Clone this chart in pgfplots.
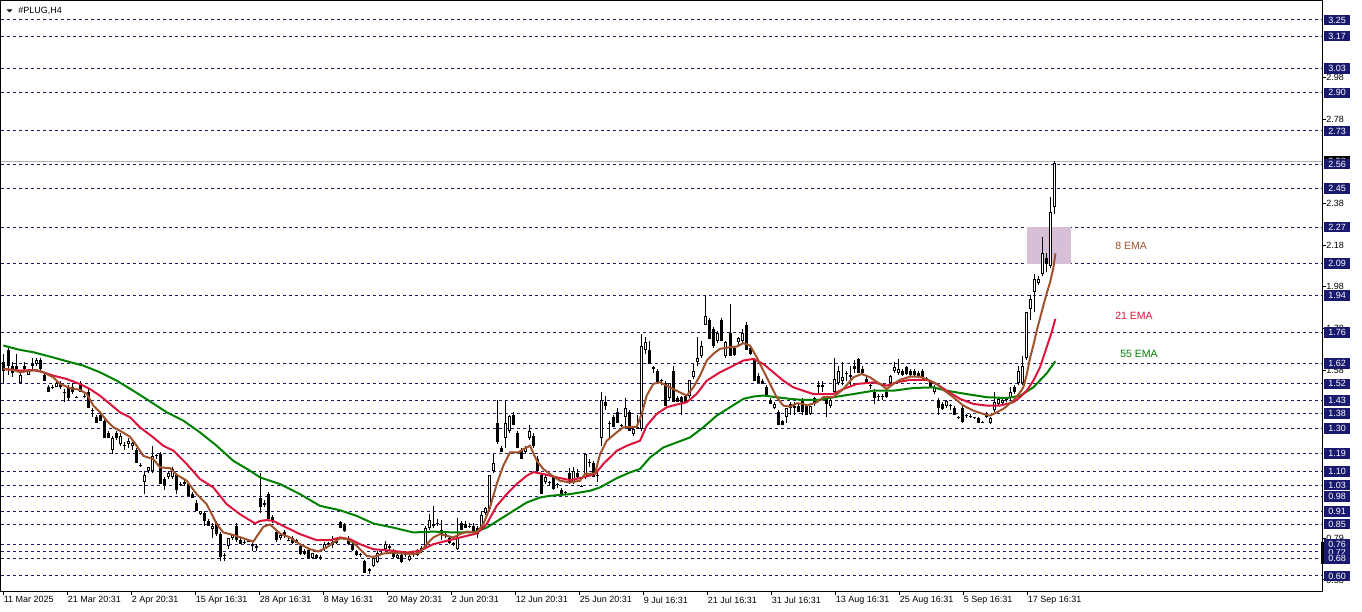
\documentclass[border=0pt]{standalone}
\usepackage{pgfplots}
\usepackage{pgfplotstable}
\pgfplotsset{compat=1.18}
\usepackage{fontspec}
\setmainfont{Liberation Sans}
\definecolor{navyline}{RGB}{25,25,112}
\definecolor{boxblue}{RGB}{25,25,112}
\definecolor{emaeightc}{RGB}{160,82,45}
\definecolor{ematwentyc}{RGB}{220,20,60}
\definecolor{emafiftyc}{RGB}{0,128,0}
\definecolor{zone}{RGB}{216,191,216}
\newcommand\lab{\fontsize{6.75}{8}\selectfont}
\tikzset{plainlab/.style={anchor=west, inner sep=0pt, font=\lab},
  lvlbox/.style={fill=boxblue, text=white, anchor=west, minimum width=19.9pt, minimum height=7.9pt, inner sep=0pt, font=\lab}}
\pgfplotsset{candle/.style={only marks, mark=*, mark size=0pt, mark options={draw=none, fill=none},
  error bars/.cd, y dir=plus, y explicit, error mark=none}}

\pgfplotstableread{
i o h l c
0 1.62 1.66 1.52 1.58
1 1.68 1.69 1.56 1.60
2 1.60 1.62 1.55 1.57
3 1.59 1.66 1.58 1.60
4 1.52 1.57 1.52 1.56
5 1.60 1.62 1.58 1.59
6 1.56 1.59 1.56 1.58
7 1.60 1.64 1.59 1.61
8 1.61 1.64 1.60 1.63
9 1.63 1.64 1.58 1.59
10 1.56 1.57 1.53 1.53
11 1.50 1.51 1.48 1.48
12 1.50 1.51 1.49 1.495
13 1.50 1.53 1.50 1.52
14 1.52 1.53 1.49 1.50
15 1.48 1.49 1.43 1.475
16 1.50 1.51 1.44 1.45
17 1.50 1.52 1.47 1.48
18 1.455 1.46 1.45 1.45
19 1.52 1.53 1.48 1.48
20 1.46 1.47 1.45 1.455
21 1.48 1.49 1.40 1.40
22 1.39 1.40 1.36 1.385
23 1.36 1.37 1.33 1.33
24 1.37 1.38 1.34 1.34
25 1.34 1.35 1.26 1.26
26 1.28 1.29 1.26 1.26
27 1.20 1.27 1.18 1.26
28 1.28 1.29 1.25 1.26
29 1.23 1.28 1.22 1.27
30 1.225 1.24 1.20 1.22
31 1.23 1.26 1.21 1.245
32 1.22 1.24 1.20 1.235
33 1.20 1.21 1.14 1.14
34 1.13 1.14 1.12 1.125
35 1.05 1.10 0.99 1.08
36 1.10 1.12 1.09 1.12
37 1.10 1.22 1.09 1.17
38 1.175 1.18 1.16 1.17
39 1.18 1.19 1.04 1.04
40 1.06 1.07 1.01 1.03
41 1.07 1.10 1.06 1.09
42 1.07 1.12 1.06 1.11
43 1.08 1.09 0.99 1.01
44 1.04 1.05 1.03 1.035
45 1.05 1.06 1.03 1.04
46 1.04 1.05 0.98 0.98
47 0.99 1.00 0.97 0.97
48 0.95 0.96 0.91 0.91
49 0.895 0.91 0.89 0.91
50 0.90 0.91 0.84 0.86
51 0.86 0.87 0.84 0.84
52 0.825 0.85 0.78 0.84
53 0.85 0.86 0.79 0.80
54 0.80 0.81 0.67 0.69
55 0.70 0.71 0.67 0.695
56 0.74 0.78 0.73 0.78
57 0.78 0.80 0.77 0.795
58 0.84 0.85 0.76 0.77
59 0.77 0.78 0.75 0.75
60 0.76 0.77 0.75 0.755
61 0.765 0.77 0.76 0.76
62 0.75 0.755 0.72 0.74
63 0.74 0.75 0.72 0.735
64 0.97 1.09 0.90 0.93
65 0.95 0.96 0.93 0.94
66 0.99 1.00 0.87 0.87
67 0.88 0.89 0.85 0.86
68 0.81 0.82 0.76 0.77
69 0.78 0.80 0.77 0.795
70 0.81 0.82 0.78 0.79
71 0.77 0.78 0.765 0.765
72 0.78 0.79 0.75 0.755
73 0.77 0.775 0.755 0.755
74 0.74 0.745 0.70 0.705
75 0.72 0.73 0.70 0.705
76 0.725 0.735 0.68 0.685
77 0.685 0.71 0.68 0.71
78 0.70 0.705 0.68 0.685
79 0.685 0.70 0.675 0.69
80 0.73 0.76 0.72 0.75
81 0.75 0.76 0.74 0.755
82 0.745 0.79 0.735 0.76
83 0.765 0.78 0.75 0.755
84 0.855 0.86 0.83 0.83
85 0.845 0.85 0.81 0.815
86 0.78 0.79 0.745 0.75
87 0.75 0.755 0.72 0.725
88 0.72 0.725 0.695 0.70
89 0.70 0.71 0.69 0.705
90 0.67 0.675 0.615 0.615
91 0.63 0.635 0.61 0.625
92 0.645 0.69 0.64 0.685
93 0.665 0.72 0.66 0.71
94 0.705 0.72 0.70 0.71
95 0.73 0.765 0.72 0.75
96 0.74 0.75 0.725 0.735
97 0.72 0.73 0.685 0.69
98 0.685 0.72 0.68 0.70
99 0.70 0.71 0.66 0.665
100 0.70 0.72 0.69 0.71
101 0.675 0.70 0.67 0.695
102 0.70 0.715 0.69 0.705
103 0.70 0.73 0.695 0.725
104 0.735 0.74 0.71 0.72
105 0.735 0.84 0.73 0.83
106 0.83 0.895 0.82 0.865
107 0.845 0.935 0.83 0.84
108 0.845 0.87 0.84 0.85
109 0.82 0.865 0.77 0.80
110 0.80 0.81 0.78 0.79
111 0.78 0.79 0.75 0.755
112 0.755 0.76 0.74 0.745
113 0.73 0.875 0.725 0.78
114 0.85 0.86 0.82 0.82
115 0.845 0.86 0.83 0.83
116 0.84 0.85 0.83 0.835
117 0.84 0.85 0.81 0.815
118 0.83 0.84 0.78 0.80
119 0.83 0.91 0.82 0.89
120 0.90 0.93 0.89 0.925
121 0.92 1.08 0.91 1.08
122 1.10 1.18 1.09 1.14
123 1.33 1.44 1.23 1.24
124 1.21 1.22 1.19 1.19
125 1.26 1.44 1.21 1.33
126 1.29 1.37 1.28 1.365
127 1.37 1.38 1.32 1.32
128 1.28 1.29 1.21 1.21
129 1.20 1.21 1.16 1.16
130 1.19 1.22 1.18 1.21
131 1.26 1.32 1.25 1.29
132 1.27 1.28 1.21 1.22
133 1.16 1.17 1.10 1.10
134 1.08 1.09 0.99 0.99
135 1.05 1.08 1.04 1.07
136 1.05 1.055 1.03 1.045
137 1.07 1.08 1.01 1.015
138 1.04 1.045 1.02 1.035
139 1.01 1.02 0.98 0.99
140 1.00 1.005 0.985 0.995
141 1.09 1.115 1.04 1.05
142 1.05 1.12 1.04 1.10
143 1.09 1.11 1.06 1.07
144 1.03 1.035 1.025 1.025
145 1.07 1.18 1.06 1.18
146 1.145 1.16 1.12 1.14
147 1.14 1.15 1.07 1.07
148 1.08 1.10 1.05 1.075
149 1.26 1.48 1.22 1.44
150 1.43 1.46 1.39 1.41
151 1.33 1.34 1.26 1.325
152 1.36 1.37 1.31 1.31
153 1.38 1.40 1.33 1.33
154 1.32 1.325 1.31 1.315
155 1.36 1.45 1.30 1.40
156 1.38 1.39 1.29 1.29
157 1.275 1.30 1.27 1.30
158 1.30 1.37 1.30 1.31
159 1.30 1.755 1.29 1.70
160 1.68 1.74 1.66 1.715
161 1.68 1.72 1.61 1.61
162 1.595 1.60 1.57 1.59
163 1.58 1.59 1.52 1.525
164 1.535 1.54 1.51 1.53
165 1.52 1.53 1.41 1.41
166 1.45 1.52 1.44 1.52
167 1.58 1.60 1.43 1.43
168 1.45 1.46 1.43 1.43
169 1.455 1.46 1.37 1.43
170 1.46 1.47 1.43 1.43
171 1.46 1.535 1.45 1.535
172 1.55 1.61 1.54 1.58
173 1.62 1.74 1.60 1.64
174 1.65 1.72 1.64 1.70
175 1.80 1.94 1.80 1.84
176 1.82 1.83 1.73 1.73
177 1.78 1.79 1.69 1.70
178 1.72 1.77 1.71 1.76
179 1.82 1.83 1.72 1.72
180 1.65 1.72 1.64 1.715
181 1.76 1.90 1.65 1.65
182 1.69 1.70 1.65 1.655
183 1.715 1.74 1.70 1.735
184 1.72 1.78 1.71 1.76
185 1.80 1.81 1.68 1.68
186 1.69 1.70 1.655 1.66
187 1.63 1.64 1.53 1.53
188 1.555 1.57 1.52 1.52
189 1.53 1.54 1.515 1.515
190 1.50 1.51 1.46 1.46
191 1.44 1.45 1.42 1.42
192 1.40 1.43 1.395 1.42
193 1.38 1.39 1.32 1.32
194 1.34 1.345 1.32 1.32
195 1.36 1.40 1.33 1.40
196 1.42 1.43 1.37 1.40
197 1.40 1.43 1.37 1.41
198 1.41 1.42 1.38 1.38
199 1.44 1.45 1.37 1.38
200 1.41 1.42 1.37 1.37
201 1.375 1.41 1.37 1.41
202 1.45 1.455 1.41 1.42
203 1.50 1.53 1.47 1.51
204 1.50 1.53 1.48 1.51
205 1.445 1.45 1.36 1.42
206 1.41 1.445 1.40 1.44
207 1.48 1.64 1.47 1.54
208 1.52 1.60 1.51 1.58
209 1.53 1.62 1.51 1.55
210 1.57 1.58 1.53 1.565
211 1.55 1.60 1.51 1.56
212 1.59 1.63 1.57 1.60
213 1.635 1.64 1.57 1.57
214 1.59 1.60 1.57 1.57
215 1.54 1.55 1.52 1.525
216 1.51 1.515 1.49 1.505
217 1.48 1.49 1.42 1.45
218 1.455 1.47 1.44 1.46
219 1.46 1.47 1.44 1.455
220 1.48 1.49 1.45 1.455
221 1.52 1.56 1.51 1.555
222 1.58 1.62 1.57 1.595
223 1.57 1.635 1.56 1.59
224 1.58 1.59 1.555 1.56
225 1.595 1.60 1.56 1.565
226 1.58 1.59 1.555 1.56
227 1.58 1.59 1.555 1.56
228 1.57 1.58 1.545 1.55
229 1.58 1.59 1.54 1.55
230 1.545 1.55 1.53 1.54
231 1.525 1.53 1.50 1.50
232 1.48 1.51 1.47 1.50
233 1.44 1.45 1.37 1.40
234 1.42 1.43 1.39 1.395
235 1.41 1.44 1.40 1.435
236 1.415 1.42 1.39 1.41
237 1.40 1.41 1.37 1.37
238 1.36 1.365 1.35 1.355
239 1.40 1.41 1.33 1.335
240 1.37 1.375 1.355 1.365
241 1.36 1.375 1.355 1.365
242 1.357 1.36 1.35 1.352
243 1.355 1.36 1.33 1.33
244 1.335 1.34 1.33 1.33
245 1.375 1.38 1.355 1.36
246 1.33 1.36 1.325 1.355
247 1.39 1.48 1.38 1.43
248 1.42 1.45 1.41 1.445
249 1.425 1.45 1.42 1.44
250 1.44 1.45 1.43 1.445
251 1.45 1.50 1.44 1.48
252 1.50 1.51 1.47 1.48
253 1.52 1.60 1.51 1.58
254 1.52 1.65 1.51 1.60
255 1.64 1.86 1.63 1.86
256 1.875 1.94 1.82 1.92
257 1.955 2.04 1.86 2.02
258 2.00 2.03 1.99 2.02
259 2.04 2.22 2.03 2.14
260 2.12 2.14 2.05 2.09
261 2.08 2.41 2.07 2.34
262 2.36 2.58 2.33 2.57
}\candles

\pgfplotstableread{
px v
3.3 1.588
13.3 1.583
20 1.572
26.7 1.577
36.7 1.583
43.3 1.572
53.3 1.548
60 1.516
70 1.497
80 1.488
86.7 1.469
93.3 1.413
100 1.381
106.7 1.341
113.3 1.309
120 1.293
130 1.264
136.7 1.221
143.3 1.173
153.3 1.157
160 1.118
170 1.114
176.7 1.083
186.7 1.054
196.7 0.990
206.7 0.942
216.7 0.847
223.3 0.807
233.3 0.795
243.3 0.779
253.3 0.763
263.3 0.834
270 0.845
280 0.802
290 0.783
300 0.751
310 0.727
318.3 0.716
326.7 0.735
333.3 0.759
340 0.779
346.7 0.775
353.3 0.759
360 0.727
366.7 0.695
373.3 0.690
383.3 0.706
393.3 0.711
403.3 0.706
413.3 0.703
420 0.711
426.7 0.751
433.3 0.783
440 0.799
446.7 0.791
453.3 0.783
460 0.799
466.7 0.811
476.7 0.807
483.3 0.847
490 0.926
496.7 1.038
503.3 1.126
510 1.189
518.3 1.189
523.3 1.205
530 1.221
536.7 1.150
543.3 1.110
550 1.086
560 1.054
570 1.046
580 1.054
585 1.086
595 1.089
600 1.180
606.7 1.245
616.7 1.285
623.3 1.309
636.7 1.312
641.7 1.373
646.7 1.461
653.3 1.517
660 1.524
666.7 1.508
673.3 1.492
680 1.476
686.7 1.461
693.3 1.500
700 1.556
706.7 1.628
713.3 1.660
720 1.684
730 1.692
736.7 1.695
743.3 1.711
750 1.700
756.7 1.644
763.3 1.580
770 1.517
776.7 1.453
783.3 1.413
790 1.408
796.7 1.424
803.3 1.421
806.7 1.413
816.7 1.429
823.3 1.453
833.3 1.453
843.3 1.492
853.3 1.548
861.7 1.564
870 1.548
880 1.516
886.7 1.492
893.3 1.516
900 1.536
910 1.551
920 1.551
930 1.532
936.7 1.516
943.3 1.488
953.3 1.453
963.3 1.413
973.3 1.389
983.3 1.373
990 1.365
996.7 1.381
1003.3 1.397
1013.3 1.437
1020 1.476
1023.3 1.500
1026.7 1.560
1030 1.640
1033.3 1.700
1036.7 1.770
1040 1.830
1043.3 1.890
1046.7 1.950
1050 2.000
1053.3 2.070
1055.5 2.140
}\emaeight

\pgfplotstableread{
px v
3.3 1.588
20 1.580
33.3 1.583
43.3 1.572
53.3 1.556
66.7 1.540
80 1.516
90 1.492
100 1.460
110 1.421
120 1.381
130 1.357
140 1.309
153.3 1.261
163.3 1.221
173.3 1.198
186.7 1.134
200 1.062
213.3 1.022
226.7 0.942
240 0.894
255 0.850
260 0.862
266.7 0.866
273.3 0.862
286.7 0.830
300 0.799
316.7 0.770
330 0.770
340 0.783
350 0.775
360 0.751
373.3 0.727
393.3 0.719
406.7 0.711
420 0.719
433.3 0.751
446.7 0.767
460 0.783
476.7 0.802
486.7 0.847
496.7 0.934
506.7 0.990
516.7 1.038
526.7 1.078
533.3 1.095
543.3 1.086
556.7 1.070
570 1.057
583.3 1.070
595 1.086
603.3 1.134
616.7 1.197
626.7 1.221
640 1.245
646.7 1.317
656.7 1.373
666.7 1.405
676.7 1.418
686.7 1.429
696.7 1.469
706.7 1.532
720 1.572
733.3 1.604
743.3 1.628
753.3 1.636
763.3 1.612
773.3 1.572
783.3 1.532
793.3 1.500
803.3 1.484
813.3 1.468
833.3 1.468
843.3 1.492
856.7 1.516
873.3 1.524
886.7 1.508
896.7 1.524
910 1.536
926.7 1.536
936.7 1.516
946.7 1.484
960 1.445
973.3 1.421
986.7 1.413
1000 1.413
1013.3 1.429
1020 1.453
1026.7 1.484
1033.3 1.532
1040 1.596
1046.7 1.692
1051.7 1.764
1055.3 1.827
}\ematwenty

\pgfplotstableread{
px v
3.3 1.700
20 1.679
33.3 1.668
50 1.647
66.7 1.625
83.3 1.604
100 1.572
116.7 1.532
133.3 1.484
150 1.433
166.7 1.381
183.3 1.341
200 1.285
216.7 1.221
233.3 1.149
250 1.102
260 1.070
270 1.054
280 1.038
300 0.990
320 0.934
340 0.913
356.7 0.886
373.3 0.850
393.3 0.830
413.3 0.807
433.3 0.811
453.3 0.807
473.3 0.807
486.7 0.830
500 0.870
513.3 0.910
526.7 0.950
540 0.974
550 0.982
570 0.990
590 1.006
600 1.022
616.7 1.066
630 1.094
640 1.110
650 1.165
663.3 1.213
676.7 1.237
690 1.261
703.3 1.309
716.7 1.365
730 1.405
743.3 1.445
753.3 1.456
763.3 1.461
776.7 1.453
790 1.445
803.3 1.440
820 1.440
833.3 1.453
853.3 1.468
873.3 1.484
893.3 1.484
913.3 1.497
933.3 1.500
946.7 1.484
966.7 1.468
986.7 1.453
1006.7 1.449
1020 1.460
1033.3 1.500
1046.7 1.567
1055.3 1.625
}\emafifty

\begin{document}
\begin{tikzpicture}
\useasboundingbox (0,0) rectangle (1021.5pt,458.25pt);
\begin{axis}[
  at={(0.75pt,15pt)}, anchor=south west,
  scale only axis, width=990.75pt, height=442.5pt,
  xmin=1, xmax=1322, ymin=0.52727, ymax=3.34569,
  clip=false,
  axis line style={black, line width=0.75pt},
  tick style={black, line width=0.75pt},
  tick align=outside,
  major tick length=3pt,
  xtick pos=bottom, ytick pos=right,
  xtick={3.6,67.6,131.6,195.6,259.6,323.6,387.6,451.6,515.6,579.6,643.6,707.6,771.6,835.6,899.6,963.6,1027.6},
  xticklabels={11 Mar 2025,21 Mar 20:31,2 Apr 20:31,15 Apr 16:31,28 Apr 16:31,8 May 16:31,20 May 20:31,2 Jun 20:31,12 Jun 20:31,25 Jun 20:31,9 Jul 16:31,21 Jul 16:31,31 Jul 16:31,13 Aug 16:31,25 Aug 16:31,5 Sep 16:31,17 Sep 16:31},
  xticklabel style={anchor=north west, inner sep=0pt, font=\lab, yshift=-1pt},
  ytick={2.98,2.78,2.38,2.18,1.98,1.78,1.58,0.78,0.58},
  yticklabels={},
  extra y ticks={3.255,3.178,3.024,2.907,2.725,2.566,2.449,2.266,2.091,1.939,1.763,1.615,1.517,1.437,1.376,1.304,1.184,1.097,1.033,0.979,0.907,0.847,0.751,0.714,0.681,0.599},
  extra y tick labels={},
  extra y tick style={grid=major, major tick length=0pt},
  major grid style={navyline, line width=0.75pt, dash pattern=on 2.25pt off 2.25pt},
]
% zone
\addplot[fill=zone, draw=none] coordinates {(1027,2.091) (1071,2.091) (1071,2.266) (1027,2.266)} -- cycle;
% current price line
\addplot[draw=gray!60, line width=0.75pt] coordinates {(1,2.578) (1322,2.578)};
% wicks
\addplot[candle, error bar style={black, line width=0.75pt}]
  table[x expr=4+4.011*\thisrow{i}, y=l, y error plus expr={\thisrow{h}-\thisrow{l}}] {\candles};
% bodies
\addplot[candle, error bar style={black, line width=2.25pt}]
  table[x expr=4+4.011*\thisrow{i}, y expr={min(\thisrow{o},\thisrow{c})}, y error plus expr={abs(\thisrow{c}-\thisrow{o})}] {\candles};
% bullish interiors
\addplot[restrict y to domain=0:10, candle, error bar style={white, line width=0.75pt, shorten <=0.75pt, shorten >=0.75pt}]
  table[x expr=4+4.011*\thisrow{i}, y expr={50-(50-\thisrow{o})*(\thisrow{c}-\thisrow{o}>0.011)}, y error plus expr={\thisrow{c}-\thisrow{o}}] {\candles};
% EMAs
\addplot[emafiftyc, line width=1.5pt, mark=none] table[x=px, y=v] {\emafifty};
\addplot[ematwentyc, line width=1.5pt, mark=none] table[x=px, y=v] {\ematwenty};
\addplot[emaeightc, line width=1.5pt, mark=none] table[x=px, y=v] {\emaeight};

% EMA labels
\node[anchor=west, inner sep=0pt, text=emaeightc, font=\fontsize{7.9}{9}\selectfont] at (axis cs:1115,2.178) {8 EMA};
\node[anchor=west, inner sep=0pt, text=ematwentyc, font=\fontsize{7.9}{9}\selectfont] at (axis cs:1115,1.843) {21 EMA};
\node[anchor=west, inner sep=0pt, text=emafiftyc, font=\fontsize{7.9}{9}\selectfont] at (axis cs:1120,1.661) {55 EMA};

% title
\fill[black] (axis cs:6.5,3.306) -- (axis cs:12.5,3.306) -- (axis cs:9.5,3.291) -- cycle;
\node[anchor=west, inner sep=0pt, font=\lab] at (axis cs:18,3.300) {\#PLUG,H4};

% plain price labels
\node[plainlab] at (axis cs:1326,2.98) {2.98};
\node[plainlab] at (axis cs:1326,2.78) {2.78};
\node[plainlab] at (axis cs:1326,2.38) {2.38};
\node[plainlab] at (axis cs:1326,2.18) {2.18};
\node[plainlab] at (axis cs:1326,1.98) {1.98};
\node[plainlab] at (axis cs:1326,1.78) {1.78};
\node[plainlab] at (axis cs:1326,1.58) {1.58};
\node[plainlab] at (axis cs:1326,0.78) {0.79};
\node[plainlab] at (axis cs:1326,0.58) {0.58};
% current price box
\node[lvlbox, fill=black] at (axis cs:1323.5,2.578) {2.58};
% level boxes
\node[lvlbox] at (axis cs:1323.5,3.255) {3.25};
\node[lvlbox] at (axis cs:1323.5,3.178) {3.17};
\node[lvlbox] at (axis cs:1323.5,3.024) {3.03};
\node[lvlbox] at (axis cs:1323.5,2.907) {2.90};
\node[lvlbox] at (axis cs:1323.5,2.725) {2.73};
\node[lvlbox] at (axis cs:1323.5,2.566) {2.56};
\node[lvlbox] at (axis cs:1323.5,2.449) {2.45};
\node[lvlbox] at (axis cs:1323.5,2.266) {2.27};
\node[lvlbox] at (axis cs:1323.5,2.091) {2.09};
\node[lvlbox] at (axis cs:1323.5,1.939) {1.94};
\node[lvlbox] at (axis cs:1323.5,1.763) {1.76};
\node[lvlbox] at (axis cs:1323.5,1.615) {1.62};
\node[lvlbox] at (axis cs:1323.5,1.517) {1.52};
\node[lvlbox] at (axis cs:1323.5,1.437) {1.43};
\node[lvlbox] at (axis cs:1323.5,1.376) {1.38};
\node[lvlbox] at (axis cs:1323.5,1.304) {1.30};
\node[lvlbox] at (axis cs:1323.5,1.184) {1.19};
\node[lvlbox] at (axis cs:1323.5,1.097) {1.10};
\node[lvlbox] at (axis cs:1323.5,1.033) {1.03};
\node[lvlbox] at (axis cs:1323.5,0.979) {0.98};
\node[lvlbox] at (axis cs:1323.5,0.907) {0.91};
\node[lvlbox] at (axis cs:1323.5,0.847) {0.85};
\node[lvlbox] at (axis cs:1323.5,0.714) {0.72};
\node[lvlbox] at (axis cs:1323.5,0.751) {0.76};
\node[lvlbox] at (axis cs:1323.5,0.681) {0.68};
\node[lvlbox] at (axis cs:1323.5,0.599) {0.60};
\draw[black, line width=2.25pt] (axis cs:1322,0.657) -- (axis cs:1322,0.763);
\end{axis}
\end{tikzpicture}
\end{document}
